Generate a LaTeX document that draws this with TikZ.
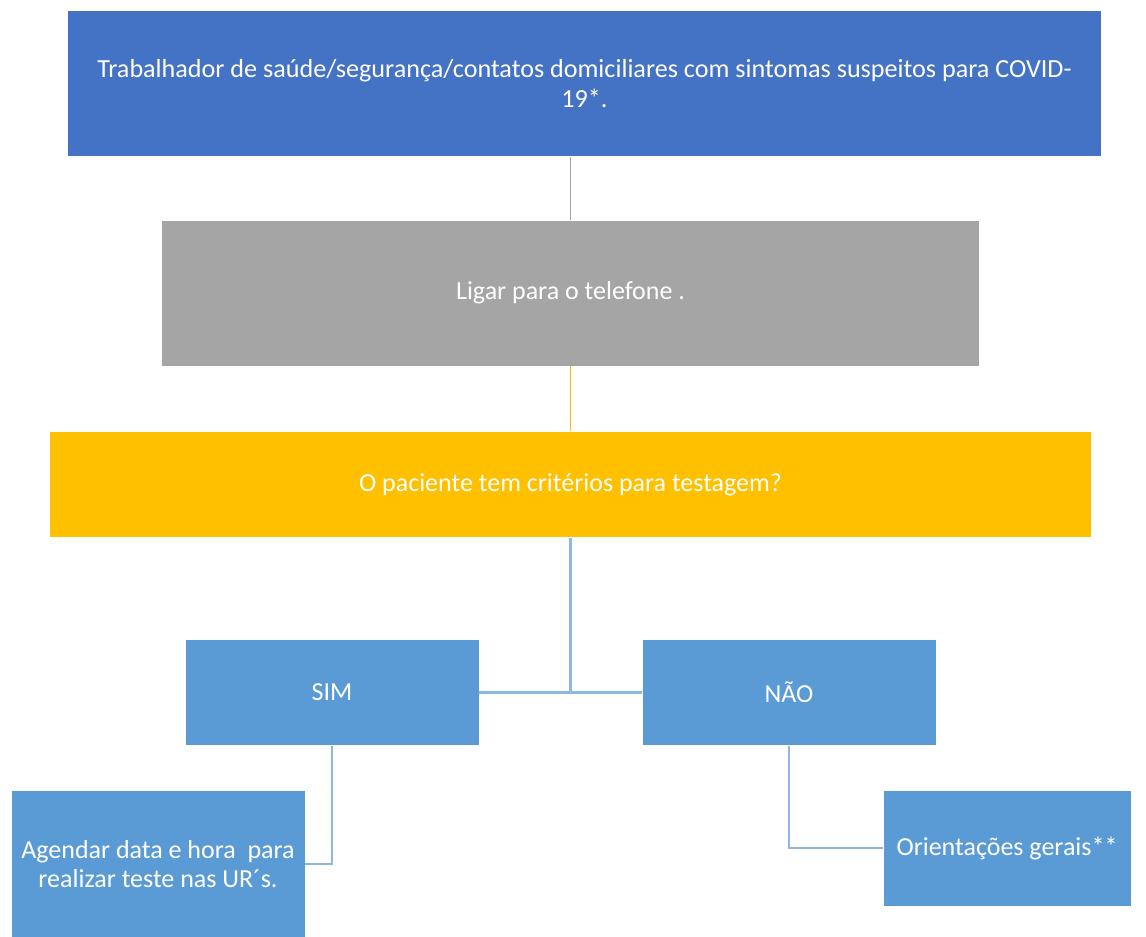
\documentclass[tikz,border=0pt]{standalone}
\usepackage{fontspec}
\setmainfont{Carlito}
\usepackage{xcolor}
\usepackage{tikz}
\usetikzlibrary{positioning, calc}

\definecolor{azulEscuro}{HTML}{4472C4}
\definecolor{cinza}{HTML}{A5A5A5}
\definecolor{amarelo}{HTML}{FFC000}
\definecolor{azulClaro}{HTML}{5B9BD5}
\definecolor{linhaAzul}{HTML}{8FB8E0}

\begin{document}
\begin{tikzpicture}[x=0.75pt, y=-0.75pt,
    box/.style={rectangle, draw=white, line width=0.6pt, inner sep=4pt, align=center, text=white,
                font=\fontsize{19.5}{23}\selectfont},
    link/.style={line width=1.8pt, draw=linhaAzul}]

      \useasboundingbox (0,0) rectangle (1146,936);

      % Caixas de cima
      \node[box, fill=azulEscuro, minimum width=776pt, minimum height=109pt,
            font=\fontsize{19.6}{22.5}\selectfont] (topo) at (584.5,83.5)
            {Trabalhador de saúde/segurança/contatos domiciliares com sintomas suspeitos para COVID-\\19*.};
      \node[box, fill=cinza, minimum width=613pt, minimum height=109.5pt] (ligar) at (570.5,293) {Ligar para o telefone .};
      \node[box, fill=amarelo, minimum width=781pt, minimum height=80pt] (criterio) at (570.5,484.5) {O paciente tem critérios para testagem?};

      % Respostas
      \node[box, fill=azulClaro, minimum width=220.5pt, minimum height=79pt] (sim) at (332,692.5) {SIM};
      \node[box, fill=azulClaro, minimum width=220.5pt, minimum height=79pt] (nao) at (789,692.5) {NÃO};

      % Caixas de baixo
      \node[box, fill=azulClaro, minimum width=220.5pt, minimum height=111pt] (agendar) at (158,864)
            {Agendar data e hora\ \ para\\[-1pt]realizar teste nas UR´s.};
      \node[box, fill=azulClaro, minimum width=186pt, minimum height=87pt] (orient) at (1007,848) {Orientações gerais**};

      % Linhas
      \draw[line width=1.2pt, draw=cinza] (topo.south -| ligar.north) -- (ligar.north);
      \draw[line width=1.4pt, draw=amarelo] (ligar.south) -- (criterio.north);
      \draw[link] (criterio.south) -- (criterio.south |- sim.east);
      \draw[link] (sim.east) -- (nao.west);
      \draw[link] (sim.south) |- (agendar.east);
      \draw[link] (nao.south) |- (orient.west);

      \end{tikzpicture}
\end{document}
